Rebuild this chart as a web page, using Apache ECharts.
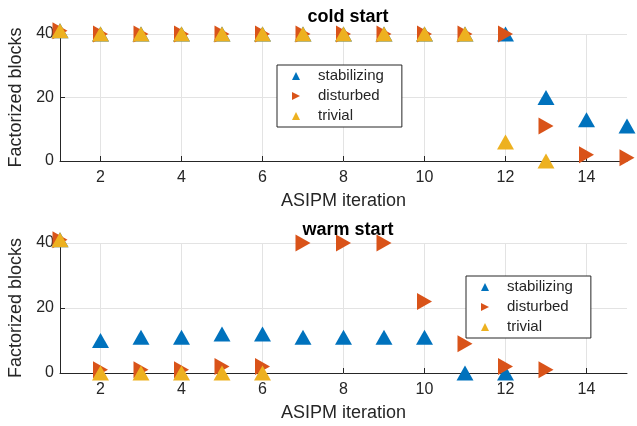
<!DOCTYPE html>
<html>
<head>
<meta charset="utf-8">
<script src="https://cdn.jsdelivr.net/npm/echarts@6/dist/echarts.min.js"></script>
<style>
  html, body { margin: 0; padding: 0; background: #fff; }
  #main { width: 637px; height: 426px; }
</style>
</head>
<body>
<div id="main"></div>
<script>
// ASIPM iterations and factorized block counts (null = not plotted)
const iterations = [1, 2, 3, 4, 5, 6, 7, 8, 9, 10, 11, 12, 13, 14, 15];

const coldStabilizing = [41, 40, 40, 40, 40, 40, 40, 40, 40, 40, 40, 40, 20, 13, 11];
const coldDisturbed   = [41, 40, 40, 40, 40, 40, 40, 40, 40, 40, 40, 40, 11, 2, 1];
const coldTrivial     = [41, 40, 40, 40, 40, 40, 40, 40, 40, 40, 40, 6, 0, null, null];

const warmStabilizing = [41, 10, 11, 11, 12, 12, 11, 11, 11, 11, 0, 0, null, null, null];
const warmDisturbed   = [41, 1, 1, 1, 2, 2, 40, 40, 40, 22, 9, 2, 1, null, null];
const warmTrivial     = [41, 0, 0, 0, 0, 0, null, null, null, null, null, null, null, null, null];

const xTicks = [2, 4, 6, 8, 10, 12, 14];
const seriesNames = ['stabilizing', 'disturbed', 'trivial'];
const colors = ['#0072BD', '#D95319', '#EDB120'];

const font = '"Liberation Sans", Arial, Helvetica, sans-serif';
const ink = '#262626';

function points(vals) {
  const out = [];
  vals.forEach((v, i) => { if (v !== null) out.push([iterations[i], v]); });
  return out;
}

const upIcon = 'path://M5,0L10,10L0,10Z';
const rightIcon = 'path://M0,0L10,5L0,10Z';

function makeSeries(gridIdx, vals) {
  return vals.map((v, k) => ({
    name: seriesNames[k],
    type: 'scatter',
    xAxisIndex: gridIdx,
    yAxisIndex: gridIdx,
    data: points(v),
    symbol: 'triangle',
    symbolSize: [17, 15],
    symbolRotate: k === 1 ? -90 : 0,
    clip: false,
    itemStyle: { color: colors[k], opacity: 1 },
    emphasis: { disabled: true }
  }));
}

function xAxis(gridIdx) {
  return {
    type: 'value',
    gridIndex: gridIdx,
    min: 1,
    max: 15,
    name: 'ASIPM iteration',
    nameLocation: 'middle',
    nameGap: 31,
    nameTextStyle: { fontFamily: font, fontSize: 18, color: ink },
    axisLine: { lineStyle: { color: ink, width: 1 } },
    axisTick: { inside: true, length: 5, customValues: xTicks, lineStyle: { color: ink } },
    axisLabel: { customValues: xTicks, fontFamily: font, fontSize: 16, color: ink, margin: 9 },
    splitLine: { show: true, lineStyle: { color: '#e3e3e3', width: 1 } }
  };
}

function yAxis(gridIdx) {
  return {
    type: 'value',
    gridIndex: gridIdx,
    min: 0,
    max: 40,
    interval: 20,
    name: 'Factorized blocks',
    nameLocation: 'middle',
    nameGap: 29,
    nameTextStyle: { fontFamily: font, fontSize: 18, color: ink },
    axisLine: { show: true, lineStyle: { color: ink, width: 1 } },
    axisTick: { show: true, inside: true, length: 5, lineStyle: { color: ink } },
    axisLabel: { fontFamily: font, fontSize: 16, color: ink, margin: 6 },
    splitLine: { show: true, lineStyle: { color: '#e3e3e3', width: 1 } }
  };
}

function legend(left, top) {
  return {
    data: [
      { name: 'stabilizing', icon: upIcon },
      { name: 'disturbed', icon: rightIcon },
      { name: 'trivial', icon: upIcon }
    ],
    orient: 'vertical',
    left: left,
    top: top,
    itemWidth: 8,
    itemHeight: 8,
    itemGap: 0,
    padding: [1, 18, 1, 15],
    borderColor: ink,
    borderWidth: 1,
    backgroundColor: '#fff',
    selectedMode: false,
    textStyle: { fontFamily: font, fontSize: 15, color: ink, lineHeight: 20, padding: [0, 0, 0, 13] }
  };
}

const chart = echarts.init(document.getElementById('main'));
chart.setOption({
  animation: false,
  backgroundColor: '#fff',
  title: [
    { text: 'cold start', left: 343, textAlign: 'center', top: 3,
      textStyle: { fontFamily: font, fontSize: 18, fontWeight: 'bold', color: '#000' } },
    { text: 'warm start', left: 343, textAlign: 'center', top: 216,
      textStyle: { fontFamily: font, fontSize: 18, fontWeight: 'bold', color: '#000' } }
  ],
  grid: [
    { left: 60, right: 10, top: 34, height: 127, outerBoundsMode: 'none' },
    { left: 60, right: 10, top: 243, height: 130, outerBoundsMode: 'none' }
  ],
  xAxis: [xAxis(0), xAxis(1)],
  yAxis: [yAxis(0), yAxis(1)],
  legend: [legend(277, 65), legend(466, 276)],
  series: [].concat(
    makeSeries(0, [coldStabilizing, coldDisturbed, coldTrivial]),
    makeSeries(1, [warmStabilizing, warmDisturbed, warmTrivial])
  )
});
</script>
</body>
</html>
